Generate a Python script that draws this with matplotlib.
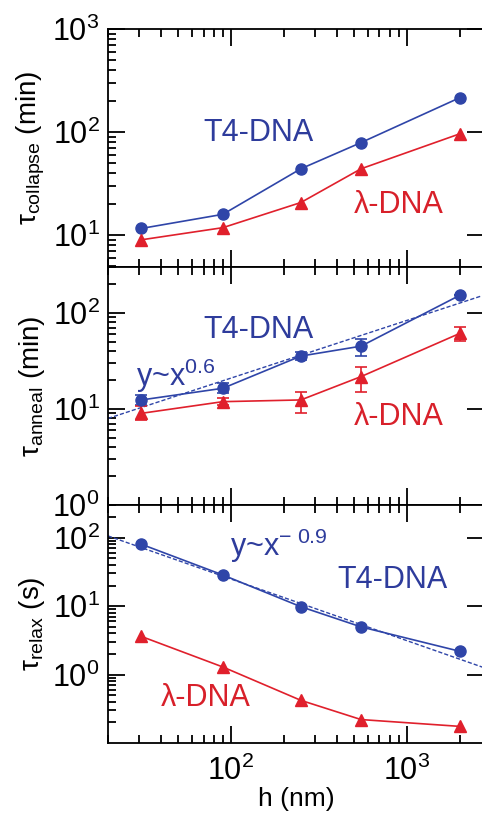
import numpy as np
import matplotlib
matplotlib.use("Agg")
import matplotlib.pyplot as plt
from matplotlib.ticker import LogLocator, NullFormatter

plt.rcParams["font.family"] = ["Liberation Sans", "DejaVu Sans"]
plt.rcParams["mathtext.fontset"] = "custom"
plt.rcParams["mathtext.rm"] = "Liberation Sans"
plt.rcParams["mathtext.it"] = "Liberation Sans"

# channel height h (nm)
h = [31, 90, 250, 550, 2000]

# collapse time (min)
collapse_t4 = [11.6, 15.9, 44, 79, 215]
collapse_lam = [9.0, 11.8, 20.7, 44, 96]

# anneal time (min) with asymmetric error bars
anneal_t4 = [12.4, 16.4, 35.5, 45, 152]
anneal_t4_lo = [11.0, 14.5, 32.0, 35.5, 152]
anneal_t4_hi = [14.0, 18.4, 39.0, 54, 152]
anneal_lam = [9.0, 11.9, 12.4, 21.7, 61]
anneal_lam_lo = [7.6, 11.0, 9.0, 14.9, 51]
anneal_lam_hi = [10.6, 12.9, 15.0, 27.6, 71.5]

# relaxation time (s)
relax_t4 = [80, 28.5, 9.8, 4.97, 2.19]
relax_lam = [3.6, 1.29, 0.42, 0.22, 0.175]

# power-law fits: prefactor, exponent
fit_anneal = (1.32, 0.6)
fit_relax = (1571, -0.9)

blue = "#2f45a8"
red = "#e0202c"
blue_txt = "#2e3c9c"
red_txt = "#d8202a"

fig = plt.figure(figsize=(4.82, 8.14), dpi=100)
W, H = 482, 814
left, right = 108 / W, 1.004
panel_h = 238 / H
tops = [29, 267, 505]
axes = []
for t in tops:
    ax = fig.add_axes([left, 1 - (t + 238) / H, right - left, panel_h])
    axes.append(ax)

xlim = (20, 2750)
ylims = [(4.9, 1000), (1, 300), (0.1, 300)]

for ax, yl in zip(axes, ylims):
    ax.set_xscale("log")
    ax.set_yscale("log")
    ax.set_xlim(*xlim)
    ax.set_ylim(*yl)
    ax.xaxis.set_major_locator(LogLocator(base=10))
    ax.xaxis.set_minor_locator(LogLocator(base=10, subs=np.arange(2, 10)))
    ax.yaxis.set_minor_locator(LogLocator(base=10, subs=np.arange(2, 10)))
    ax.xaxis.set_minor_formatter(NullFormatter())
    ax.yaxis.set_minor_formatter(NullFormatter())
    ax.tick_params(which="both", direction="in", top=True, right=True,
                   width=1.3, labelsize=22, pad=6)
    ax.tick_params(axis="x", which="major", pad=9)
    ax.tick_params(which="major", length=12)
    ax.tick_params(which="minor", length=6)
    ax.tick_params(axis="y", which="minor", right=False)
    for s in ax.spines.values():
        s.set_linewidth(1.3)

ms = 8
lw = 1.2
fs = 22

# top panel: collapse
ax = axes[0]
ax.plot(h, collapse_t4, "-o", color=blue, ms=ms, lw=lw)
ax.plot(h, collapse_lam, "-^", color=red, ms=ms + 0.5, lw=lw)
ax.tick_params(labelbottom=False)
ax.set_yticks([10, 100, 1000])
ax.set_ylabel(r"τ$_{\mathregular{collapse}}$ (min)", fontsize=20, labelpad=4)
ax.text(258, 133, "T4-DNA", transform=None, fontsize=fs, color=blue_txt,
        ha="center", va="center")
ax.text(399, 205, "λ-DNA", transform=None, fontsize=fs, color=red_txt,
        ha="center", va="center")

# middle panel: anneal
ax = axes[1]
xf = np.array(xlim)
ax.plot(xf, fit_anneal[0] * xf ** fit_anneal[1], "--", color=blue, lw=1.0,
        dashes=(3, 1.5))
t4_err = [np.subtract(anneal_t4, anneal_t4_lo), np.subtract(anneal_t4_hi, anneal_t4)]
lam_err = [np.subtract(anneal_lam, anneal_lam_lo), np.subtract(anneal_lam_hi, anneal_lam)]
ax.errorbar(h, anneal_t4, yerr=t4_err, fmt="-o", color=blue, ms=ms, lw=lw,
            capsize=4, elinewidth=1.2, capthick=1.2)
ax.errorbar(h, anneal_lam, yerr=lam_err, fmt="-^", color=red, ms=ms + 0.5, lw=lw,
            capsize=4, elinewidth=1.2, capthick=1.2)
ax.tick_params(labelbottom=False)
ax.set_yticks([1, 10, 100])
ax.set_ylabel(r"τ$_{\mathregular{anneal}}$ (min)", fontsize=20, labelpad=4)
ax.text(259, 330, "T4-DNA", transform=None, fontsize=fs, color=blue_txt,
        ha="center", va="center")
ax.text(399, 417, "λ-DNA", transform=None, fontsize=fs, color=red_txt,
        ha="center", va="center")
ax.text(136, 386, r"y~x$^{\mathregular{0.6}}$", transform=None, fontsize=fs,
        color=blue_txt, ha="left", va="baseline")

# bottom panel: relax
ax = axes[2]
ax.plot(xf, fit_relax[0] * xf ** fit_relax[1], "--", color=blue, lw=1.0,
        dashes=(3, 1.5))
ax.plot(h, relax_t4, "-o", color=blue, ms=ms, lw=lw)
ax.plot(h, relax_lam, "-^", color=red, ms=ms + 0.5, lw=lw)
ax.set_yticks([1, 10, 100])
ax.set_ylabel(r"τ$_{\mathregular{relax}}$ (s)", fontsize=20, labelpad=4)
ax.set_xlabel("h (nm)", fontsize=19, labelpad=0)
ax.text(230, 556, r"y~x$^{\mathregular{-\ 0.9}}$", transform=None, fontsize=fs,
        color=blue_txt, ha="left", va="baseline")
ax.text(392, 580, "T4-DNA", transform=None, fontsize=fs, color=blue_txt,
        ha="center", va="center")
ax.text(206, 698, "λ-DNA", transform=None, fontsize=fs, color=red_txt,
        ha="center", va="center")

# text positions above are given in pixels from the top; convert
for a in axes:
    for t in a.texts:
        x, y = t.get_position()
        t.set_transform(fig.transFigure)
        t.set_position((x / W, 1 - y / H))

fig.savefig("out.png", dpi=100)
